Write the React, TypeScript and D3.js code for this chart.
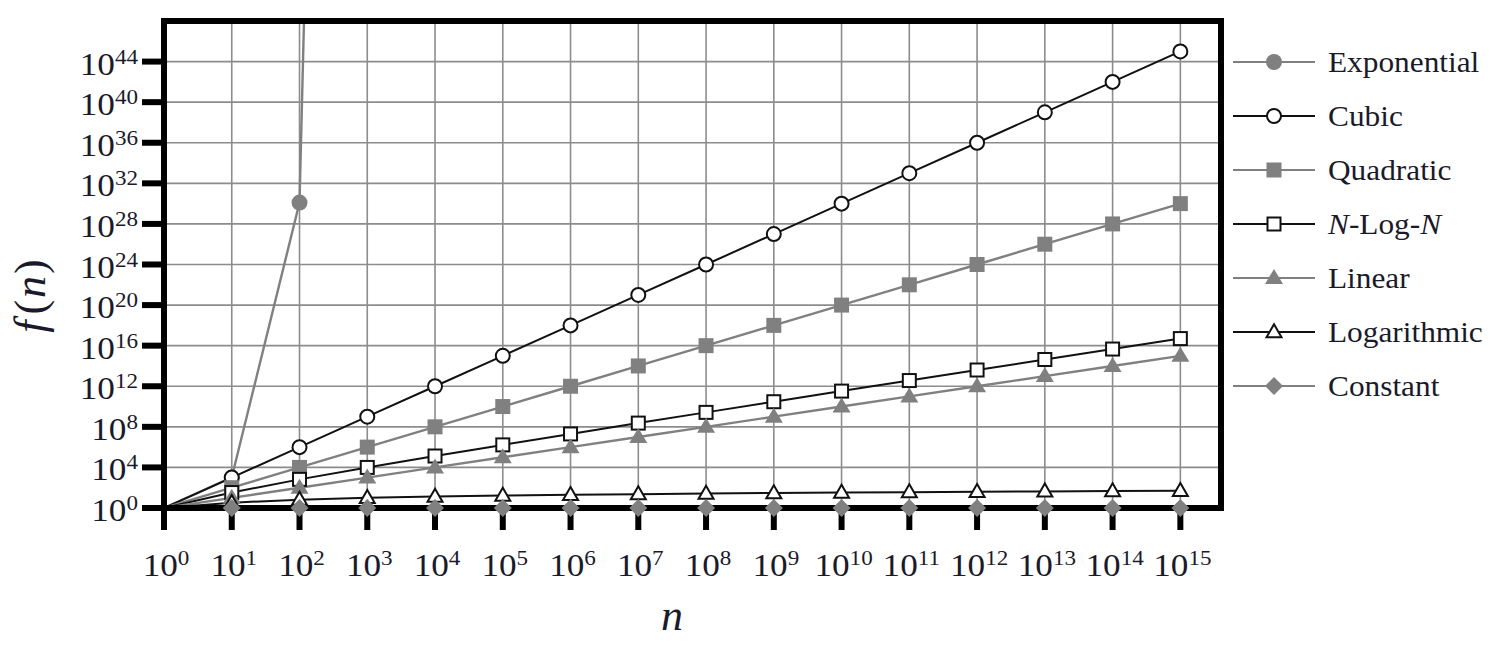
import React from "react";
import * as d3 from "d3";

// n = 10^k, k = 0..15
const exponents = [0, 1, 2, 3, 4, 5, 6, 7, 8, 9, 10, 11, 12, 13, 14, 15];
const nValues = exponents.map((k) => Math.pow(10, k));

const exponentialValues = [1, 1024, 1.27e30, 1.07e301];
const cubicValues = [1, 1e3, 1e6, 1e9, 1e12, 1e15, 1e18, 1e21, 1e24, 1e27, 1e30, 1e33, 1e36, 1e39, 1e42, 1e45];
const quadraticValues = [1, 1e2, 1e4, 1e6, 1e8, 1e10, 1e12, 1e14, 1e16, 1e18, 1e20, 1e22, 1e24, 1e26, 1e28, 1e30];
const nLogNValues = [1, 33.2, 664, 9.97e3, 1.33e5, 1.66e6, 1.99e7, 2.33e8, 2.66e9, 2.99e10, 3.32e11, 3.65e12, 3.99e13, 4.32e14, 4.65e15, 4.98e16];
const linearValues = [1, 1e1, 1e2, 1e3, 1e4, 1e5, 1e6, 1e7, 1e8, 1e9, 1e10, 1e11, 1e12, 1e13, 1e14, 1e15];
const logarithmicValues = [1, 3.32, 6.64, 9.97, 13.3, 16.6, 19.9, 23.3, 26.6, 29.9, 33.2, 36.5, 39.9, 43.2, 46.5, 49.8];
const constantValues = [1, 1, 1, 1, 1, 1, 1, 1, 1, 1, 1, 1, 1, 1, 1, 1];

const seriesNames = ["Exponential", "Cubic", "Quadratic", "N-Log-N", "Linear", "Logarithmic", "Constant"];
const xTickExponents = [0, 1, 2, 3, 4, 5, 6, 7, 8, 9, 10, 11, 12, 13, 14, 15];
const yTickExponents = [0, 4, 8, 12, 16, 20, 24, 28, 32, 36, 40, 44];

const GRAY = "#808080";
const BLACK = "#111";
const FONT = "'Liberation Serif', 'Times New Roman', serif";

type Shape = "circle" | "square" | "triangle" | "diamond";
interface Series {
  name: string;
  values: number[];
  color: string;
  fill: string;
  shape: Shape;
}

const series: Series[] = [
  { name: seriesNames[0], values: exponentialValues, color: GRAY, fill: GRAY, shape: "circle" },
  { name: seriesNames[1], values: cubicValues, color: BLACK, fill: "#fff", shape: "circle" },
  { name: seriesNames[2], values: quadraticValues, color: GRAY, fill: GRAY, shape: "square" },
  { name: seriesNames[3], values: nLogNValues, color: BLACK, fill: "#fff", shape: "square" },
  { name: seriesNames[4], values: linearValues, color: GRAY, fill: GRAY, shape: "triangle" },
  { name: seriesNames[5], values: logarithmicValues, color: BLACK, fill: "#fff", shape: "triangle" },
  { name: seriesNames[6], values: constantValues, color: GRAY, fill: GRAY, shape: "diamond" },
];

const left = 164;
const right = 1221;
const top = 21;
const bottom = 508;

const x = d3.scaleLog().domain([1, Math.pow(10, 15.6)]).range([left, right]);
const y = d3.scaleLog().domain([1, 1e48]).range([bottom, top]);

function Marker({ shape, cx, cy, color, fill }: { shape: Shape; cx: number; cy: number; color: string; fill: string }) {
  const open = fill === "#fff";
  const sw = open ? 2 : 0;
  if (shape === "circle") {
    return <circle cx={cx} cy={cy} r={open ? 7 : 8} fill={fill} stroke={open ? color : "none"} strokeWidth={sw} />;
  }
  if (shape === "square") {
    const s = open ? 13 : 15;
    return <rect x={cx - s / 2} y={cy - s / 2} width={s} height={s} fill={fill} stroke={open ? color : "none"} strokeWidth={sw} />;
  }
  if (shape === "triangle") {
    const w = open ? 15 : 18;
    const h = open ? 13 : 15;
    const p = `M${cx},${cy - h * 0.6} L${cx + w / 2},${cy + h * 0.4} L${cx - w / 2},${cy + h * 0.4} Z`;
    return <path d={p} fill={fill} stroke={open ? color : "none"} strokeWidth={sw} strokeLinejoin="miter" />;
  }
  const r = 9;
  const p = `M${cx},${cy - r} L${cx + r},${cy} L${cx},${cy + r} L${cx - r},${cy} Z`;
  return <path d={p} fill={fill} />;
}

function TenLabel({ k, px, py, anchor }: { k: number; px: number; py: number; anchor: "middle" | "end" }) {
  return (
    <g transform={`translate(${px},${py}) scale(1.1,1)`}>
      <text x={0} y={0} textAnchor={anchor} fontFamily={FONT} fontSize={32} fill="#1a1a2a">
        10
        <tspan fontSize={21} dy={-11}>{k}</tspan>
      </text>
    </g>
  );
}

export default function App() {
  const line = d3
    .line<[number, number]>()
    .x((d) => x(d[0]))
    .y((d) => y(d[1]));

  const legendY0 = 62;
  const legendStep = 54;

  return (
    <svg width={1494} height={646} style={{ display: "block", position: "absolute", left: 0, top: 0, background: "#fff" }}>
      <defs>
        <clipPath id="plotClip">
          <rect x={left} y={top} width={right - left} height={bottom - top} />
        </clipPath>
      </defs>

      {/* grid */}
      {xTickExponents.map((k) => (
        <line key={"gx" + k} x1={x(Math.pow(10, k))} x2={x(Math.pow(10, k))} y1={top} y2={bottom} stroke="#8c8c8c" strokeWidth={1.6} />
      ))}
      {yTickExponents.map((k) => (
        <line key={"gy" + k} x1={left} x2={right} y1={y(Math.pow(10, k))} y2={y(Math.pow(10, k))} stroke="#8c8c8c" strokeWidth={1.6} />
      ))}

      {/* lines */}
      <g clipPath="url(#plotClip)">
        {series.map((s) => {
          const pts: [number, number][] = s.values.map((v, i) => [nValues[i], v]);
          return <path key={"l" + s.name} d={line(pts) || ""} fill="none" stroke={s.color} strokeWidth={s.color === GRAY ? 2.4 : 2} />;
        })}
      </g>

      {/* frame */}
      <rect x={left} y={top} width={right - left} height={bottom - top} fill="none" stroke="#000" strokeWidth={6} />

      {/* ticks */}
      {xTickExponents.map((k) => (
        <line key={"tx" + k} x1={x(Math.pow(10, k))} x2={x(Math.pow(10, k))} y1={bottom} y2={530} stroke="#000" strokeWidth={6} />
      ))}
      {yTickExponents.map((k) => (
        <line key={"ty" + k} x1={142} x2={left} y1={y(Math.pow(10, k))} y2={y(Math.pow(10, k))} stroke="#000" strokeWidth={6} />
      ))}

      {/* markers */}
      {series.map((s) =>
        s.values.map((v, i) => {
          if (i === 0) return null;
          const cx = x(nValues[i]);
          const cy = y(v);
          if (cy < top) return null;
          return <Marker key={s.name + i} shape={s.shape} cx={cx} cy={cy} color={s.color} fill={s.fill} />;
        })
      )}

      {/* tick labels */}
      {xTickExponents.map((k) => (
        <TenLabel key={"lx" + k} k={k} px={x(Math.pow(10, k)) + 2} py={576} anchor="middle" />
      ))}
      {yTickExponents.map((k) => (
        <TenLabel key={"ly" + k} k={k} px={138} py={y(Math.pow(10, k)) + 13} anchor="end" />
      ))}

      {/* axis titles */}
      <text x={672} y={630} textAnchor="middle" fontFamily={FONT} fontStyle="italic" fontSize={44} fill="#1a1a2a">
        n
      </text>
      <text
        transform={`translate(45,295) rotate(-90)`}
        textAnchor="middle"
        fontFamily={FONT}
        fontStyle="italic"
        fontSize={44}
        letterSpacing={2}
        fill="#1a1a2a"
      >
        f
        <tspan fontStyle="normal" dx={4}>(</tspan>
        <tspan>n</tspan>
        <tspan fontStyle="normal">)</tspan>
      </text>

      {/* legend */}
      {series.map((s, i) => {
        const ly = legendY0 + i * legendStep;
        return (
          <g key={"leg" + s.name}>
            <line x1={1233} x2={1315} y1={ly} y2={ly} stroke={s.color} strokeWidth={s.color === GRAY ? 2.2 : 2} />
            <Marker shape={s.shape} cx={1274} cy={ly} color={s.color} fill={s.fill} />
            <g transform={`translate(1328,${ly + 10}) scale(1.08,1)`}>
              <text x={0} y={0} fontFamily={FONT} fontSize={29} fill="#1a1a2a">
                {s.name === "N-Log-N" ? (
                  <>
                    <tspan fontStyle="italic">N</tspan>
                    <tspan>-Log-</tspan>
                    <tspan fontStyle="italic">N</tspan>
                  </>
                ) : (
                  s.name
                )}
              </text>
            </g>
          </g>
        );
      })}
    </svg>
  );
}
